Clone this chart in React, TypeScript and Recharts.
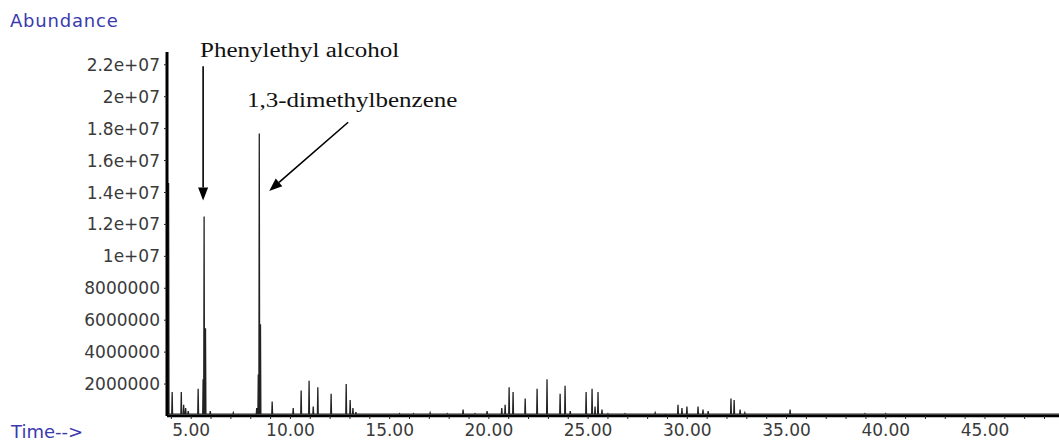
import React from 'react';
import { LineChart, Line, XAxis, YAxis, ReferenceLine } from 'recharts';

// retention time (min) and abundance (counts) of each visible peak
const peakTimes = [
  3.86, 4.04, 4.5, 4.62, 4.72, 4.85, 5.35, 5.6, 5.65, 5.72, 5.96, 7.12,
  8.3, 8.38, 8.43, 8.49, 9.08, 10.14, 10.54, 10.94, 11.15, 11.38, 12.05,
  12.81, 13.01, 13.15, 13.3, 15.5, 16.2, 17.04, 17.9, 18.7, 19.3, 19.91,
  20.65, 20.82, 21.02, 21.22, 21.83, 22.43, 22.93, 23.59, 23.84, 24.1,
  24.9, 25.2, 25.35, 25.5, 25.7, 26.0, 26.86, 28.38, 28.9, 29.53, 29.73,
  29.98, 30.54, 30.79, 31.05, 32.2, 32.36, 32.66, 32.9, 35.18, 38.95, 40.0,
];
const peakHeights = [
  14.6e6, 1.5e6, 1.5e6, 0.7e6, 0.5e6, 0.3e6, 1.7e6, 2.3e6, 12.5e6, 5.5e6, 0.3e6, 0.2e6,
  0.5e6, 2.6e6, 17.7e6, 5.75e6, 0.9e6, 0.5e6, 1.6e6, 2.2e6, 0.6e6, 1.8e6, 1.4e6,
  2.0e6, 1.0e6, 0.5e6, 0.25e6, 0.15e6, 0.15e6, 0.2e6, 0.15e6, 0.4e6, 0.15e6, 0.3e6,
  0.5e6, 0.7e6, 1.8e6, 1.5e6, 1.1e6, 1.7e6, 2.3e6, 1.4e6, 1.9e6, 0.3e6,
  1.5e6, 1.7e6, 0.6e6, 1.5e6, 0.4e6, 0.15e6, 0.15e6, 0.2e6, 0.1e6, 0.7e6, 0.5e6,
  0.6e6, 0.6e6, 0.4e6, 0.3e6, 1.1e6, 1.0e6, 0.4e6, 0.2e6, 0.4e6, 0.15e6, 0.15e6,
];
const baseline = 0.12e6;
const timeRange = [3.78, 48.73];
const abundanceMax = 2.28e7;
const yTicks = [2e6, 4e6, 6e6, 8e6, 1e7, 1.2e7, 1.4e7, 1.6e7, 1.8e7, 2e7, 2.2e7];
const xTicks = [4, 5, 6, 7, 8, 9, 10, 11, 12, 13, 14, 15, 16, 17, 18, 19, 20, 21, 22, 23, 24, 25, 26,
  27, 28, 29, 30, 31, 32, 33, 34, 35, 36, 37, 38, 39, 40, 41, 42, 43, 44, 45, 46, 47, 48];

// annotation arrows: [startTime, startAbundance, tipTime, tipAbundance]
const phenylArrow = [5.6, 21.9e6, 5.6, 13.5e6];
const xyleneArrow = [12.91, 18.4e6, 8.93, 14.1e6];

const trace: { t: number; a: number }[] = [{ t: timeRange[0], a: baseline }];
peakTimes.forEach((t, i) => {
  trace.push({ t: t - 0.02, a: baseline });
  trace.push({ t, a: peakHeights[i] });
  trace.push({ t: t + 0.02, a: baseline });
});
trace.push({ t: timeRange[1], a: baseline });

const fmtY = (v: number) => {
  if (v < 1e7) return String(v);
  const [m, e] = v.toExponential().split('e');
  return `${m}e+${e.replace('+', '').padStart(2, '0')}`;
};

const Arrow = (props: any) => {
  const { x1, y1, x2, y2 } = props;
  const ang = Math.atan2(y2 - y1, x2 - x1);
  const len = 13;
  const w = 5;
  const bx = x2 - len * Math.cos(ang);
  const by = y2 - len * Math.sin(ang);
  const px = -Math.sin(ang) * w;
  const py = Math.cos(ang) * w;
  return (
    <g>
      <line x1={x1} y1={y1} x2={bx} y2={by} stroke="#000" strokeWidth={1.6} />
      <polygon points={`${x2},${y2} ${bx + px},${by + py} ${bx - px},${by - py}`} fill="#000" />
    </g>
  );
};

const blue = '#3a3aae';
const noteStyle: React.CSSProperties = {
  position: 'absolute',
  color: '#111',
  fontSize: 20,
  fontFamily: 'Liberation Serif',
  whiteSpace: 'nowrap',
  transform: 'scaleX(1.25)',
  transformOrigin: 'left top',
};

export default function App() {
  return (
    <div style={{ position: 'absolute', left: 0, top: 0, width: 1059, height: 441, background: '#fff' }}>
      <LineChart width={1059} height={441} data={trace} margin={{ top: 52, right: 0, bottom: 0, left: 0 }}>
        <XAxis
          dataKey="t"
          type="number"
          domain={timeRange}
          ticks={xTicks}
          allowDataOverflow
          interval={0}
          height={25}
          tickSize={3}
          tickMargin={5}
          tickFormatter={(v: number) => (v % 5 === 0 ? v.toFixed(2) : '')}
          axisLine={{ stroke: '#000', strokeWidth: 2.5 }}
          tickLine={{ stroke: '#222' }}
          tick={{ fill: '#3a3a3a', fontSize: 17, fontFamily: 'DejaVu Sans' }}
        />
        <YAxis
          type="number"
          domain={[0, abundanceMax]}
          ticks={yTicks}
          allowDataOverflow
          interval={0}
          width={167}
          tickSize={3}
          tickMargin={4}
          tickFormatter={fmtY}
          axisLine={{ stroke: '#000', strokeWidth: 3 }}
          tickLine={{ stroke: '#222' }}
          tick={{ fill: '#3a3a3a', fontSize: 17, fontFamily: 'DejaVu Sans' }}
        />
        <Line
          dataKey="a"
          type="linear"
          stroke="#222"
          strokeWidth={1.3}
          dot={false}
          isAnimationActive={false}
        />
        <ReferenceLine
          segment={[{ x: phenylArrow[0], y: phenylArrow[1] }, { x: phenylArrow[2], y: phenylArrow[3] }]}
          shape={Arrow}
          ifOverflow="visible"
        />
        <ReferenceLine
          segment={[{ x: xyleneArrow[0], y: xyleneArrow[1] }, { x: xyleneArrow[2], y: xyleneArrow[3] }]}
          shape={Arrow}
          ifOverflow="visible"
        />
      </LineChart>
      <div style={{ position: 'absolute', left: 10, top: 10, color: blue, fontSize: 18, fontFamily: 'DejaVu Sans', letterSpacing: 0.8 }}>
        Abundance
      </div>
      <div style={{ position: 'absolute', left: 11, top: 421, color: blue, fontSize: 18, fontFamily: 'DejaVu Sans' }}>
        Time--&gt;
      </div>
      <div style={{ ...noteStyle, left: 200, top: 39 }}>Phenylethyl alcohol</div>
      <div style={{ ...noteStyle, left: 247, top: 89 }}>1,3-dimethylbenzene</div>
    </div>
  );
}
